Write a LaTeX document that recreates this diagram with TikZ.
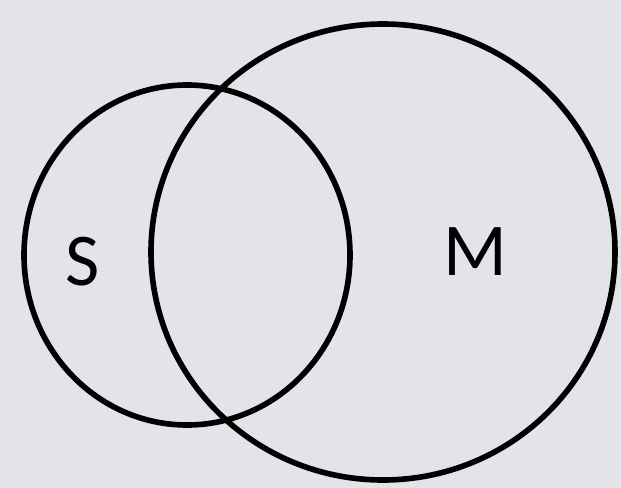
\documentclass[tikz,border=0pt]{standalone}
\usepackage{fontspec}
\setmainfont{Carlito}
\usetikzlibrary{positioning}
\definecolor{paper}{RGB}{227,227,233}

\begin{document}
\begin{tikzpicture}[
		x=0.025cm, y=-0.025cm,
		set/.style={draw=black, line width=4pt},
		lbl/.style={font=\fontsize{53}{60}\selectfont, inner sep=0pt}
		]
		
		% page
		\fill[paper] (0,0) rectangle (621,488);
		\useasboundingbox (0,0) rectangle (621,488);
		
		% sets
		\coordinate (cS) at (187,255);
		\coordinate (cM) at (383,252);
		\draw[set] (cS) ellipse [x radius=163, y radius=170];
		\draw[set] (cM) ellipse [x radius=232, y radius=228];
		
		% labels
		\node[lbl] (S) at (83,262) {S};
		\node[lbl] (M) at (475,252) {M};
		
	\end{tikzpicture}
\end{document}
